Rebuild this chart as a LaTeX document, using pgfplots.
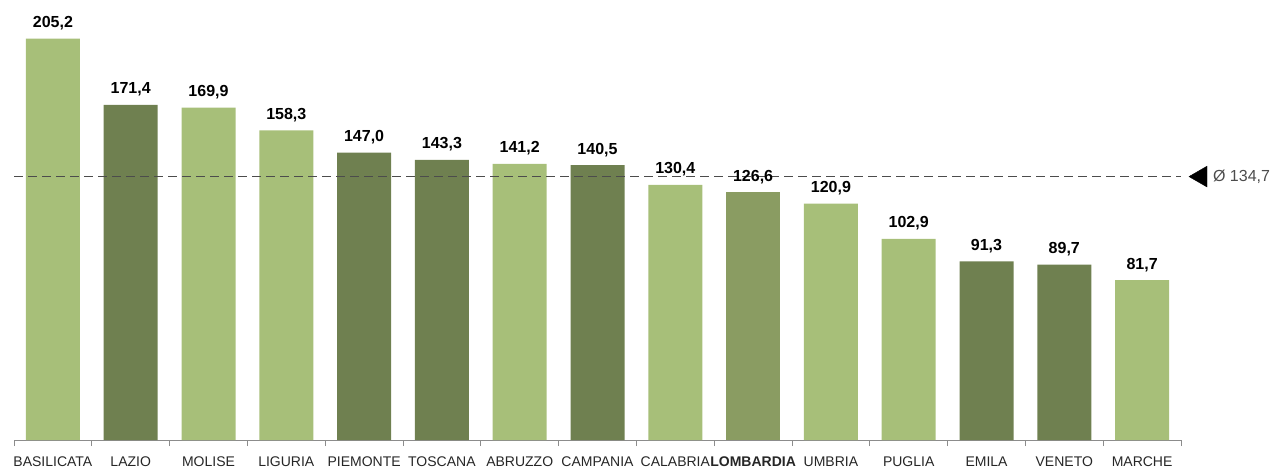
\documentclass[border=0pt]{standalone}
\usepackage{fontspec}
\setmainfont{Liberation Sans}
\usepackage{pgfplots}
\pgfplotsset{compat=1.18}
\definecolor{lightg}{HTML}{A7BF79}
\definecolor{darkg}{HTML}{6F8050}
\definecolor{midg}{HTML}{8A9C62}
\definecolor{axgray}{HTML}{8C8C8C}
\begin{document}
\begin{tikzpicture}
\path[use as bounding box] (0,0) rectangle (1277pt,469pt);
\begin{axis}[
  at={(14pt,29pt)}, anchor=south west,
  scale only axis, width=1167pt, height=440pt,
  xmin=-0.5, xmax=14.5, ymin=0, ymax=225,
  clip=false,
  axis x line*=bottom, axis y line=none,
  x axis line style={draw=axgray, line width=1pt, -},
  xtick={0,...,14},
  xticklabels={BASILICATA,LAZIO,MOLISE,LIGURIA,PIEMONTE,TOSCANA,ABRUZZO,CAMPANIA,CALABRIA,\textbf{LOMBARDIA},UMBRIA,PUGLIA,EMILA,VENETO,MARCHE},
  major tick length=0pt,
  minor xtick={-0.5,0.5,...,14.5},
  minor tick length=6pt,
  tick align=outside,
  minor tick style={draw=axgray, line width=1pt},
  xticklabel style={font=\fontsize{14}{14}\selectfont, text=black!85, anchor=north, inner sep=0pt, yshift=-17pt},
  mybar/.style={ybar, bar width=54pt, bar shift=0pt, draw=none,
    nodes near coords={\pgfmathprintnumber[fixed,fixed zerofill,precision=1,use comma,assume math mode=true]{\pgfplotspointmeta}},
    every node near coord/.append style={font=\bfseries\fontsize{16}{16}\selectfont, text=black, inner sep=0pt, anchor=south, yshift=8.5pt}},
]
\addplot[mybar, fill=lightg] coordinates {(0,205.2) (2,169.9) (3,158.3) (6,141.2) (8,130.4) (10,120.9) (11,102.9) (14,81.7)};
\addplot[mybar, fill=darkg] coordinates {(1,171.4) (4,147.0) (5,143.3) (7,140.5) (12,91.3) (13,89.7)};
\addplot[mybar, fill=midg] coordinates {(9,126.6)};
\addplot[draw=black!70, line width=1.5pt, dash pattern=on 9pt off 5pt, no marks] coordinates {(-0.5,134.7) (14.5,134.7)};
\addplot[only marks, mark=triangle*, mark size=12pt, mark options={rotate=90, fill=black, draw=black}] coordinates {(14.757,134.7)};
\node[anchor=west, text=black!70, font=\fontsize{16}{16}\selectfont, inner sep=0pt] at (axis cs:14.91,134.7) {Ø 134,7};
\end{axis}
\end{tikzpicture}
\end{document}
